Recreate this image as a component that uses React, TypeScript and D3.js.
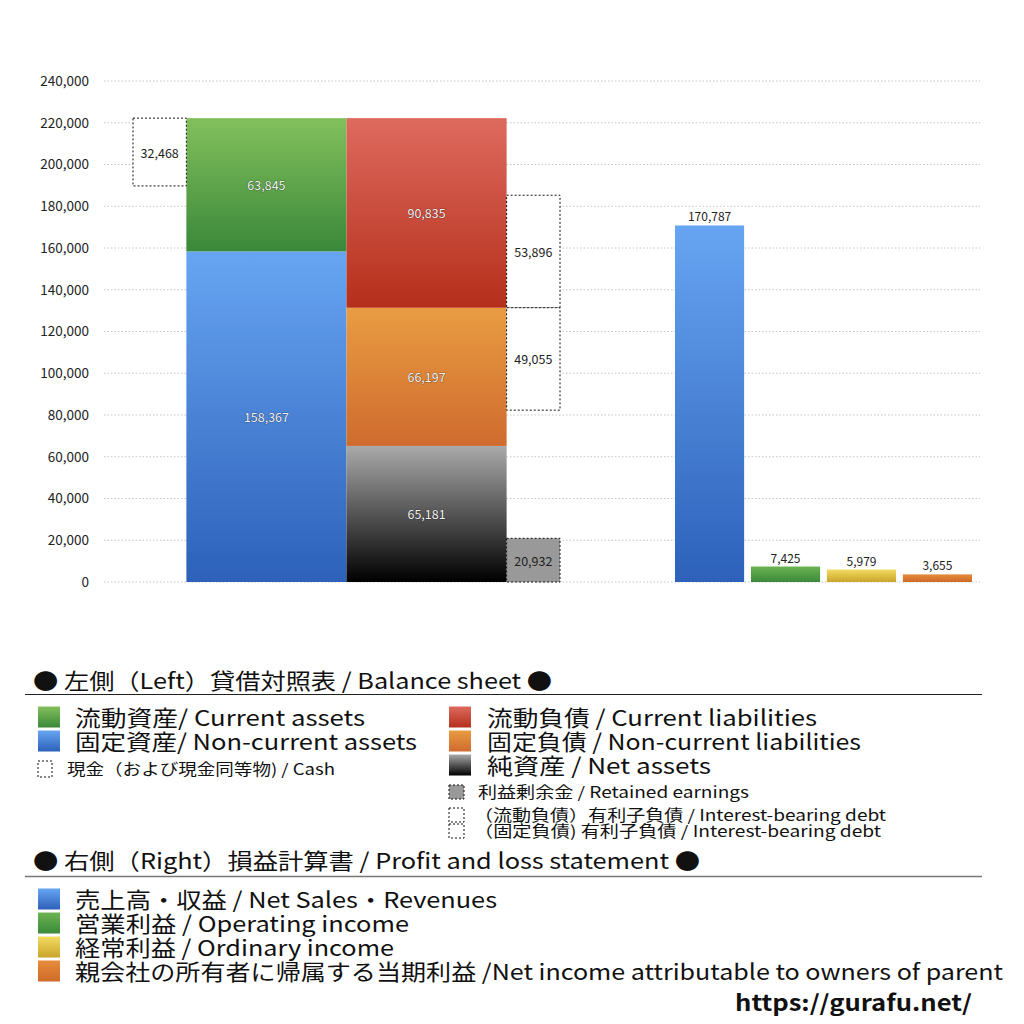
import { useEffect, useRef } from 'react'
import * as d3 from 'd3'

// ─── Data ────────────────────────────────────────────────────────────────────

const yTicks = [0, 20000, 40000, 60000, 80000, 100000, 120000, 140000, 160000, 180000, 200000, 220000, 240000]

// Left: balance sheet (stacked bottom → top)
const assetKeys = ['nonCurrentAssets', 'currentAssets']
const assetValues = [158367, 63845]
const claimKeys = ['netAssets', 'nonCurrentLiabilities', 'currentLiabilities']
const claimValues = [65181, 66197, 90835]
const cashValue = 32468
const retainedEarnings = 20932
const debtValues = [53896, 49055] // current, non-current interest-bearing debt

// Right: profit and loss
const plKeys = ['sales', 'operating', 'ordinary', 'netIncome']
const plValues = [170787, 7425, 5979, 3655]

// ─── Colours ─────────────────────────────────────────────────────────────────

const grads: Record<string, [string, string]> = {
  currentAssets: ['#83c05c', '#3a883a'],
  nonCurrentAssets: ['#67a5f2', '#2d61ba'],
  currentLiabilities: ['#de6a5e', '#b52f1b'],
  nonCurrentLiabilities: ['#e99c42', '#cf6b2e'],
  netAssets: ['#aaaaaa', '#000000'],
  sales: ['#67a5f2', '#2d61ba'],
  operating: ['#6cb452', '#3a8a3a'],
  ordinary: ['#f2dc62', '#c9a52c'],
  netIncome: ['#e58c3c', '#cf6a28'],
}

const FONT = '"Noto Sans CJK JP", "Noto Sans", sans-serif'

// ─── Legend rows ─────────────────────────────────────────────────────────────

interface LegendRow {
  text: string
  x: number
  cy: number
  size: number
  width: number
  swatch?: { x: number; w: number; h: number; key?: string; dotted?: boolean; fill?: string }
}

const legendRows: LegendRow[] = [
  { text: '流動資産/ Current assets', x: 75, cy: 717, size: 22, width: 290, swatch: { x: 38, w: 22, h: 21, key: 'currentAssets' } },
  { text: '固定資産/ Non-current assets', x: 75, cy: 741, size: 22, width: 342, swatch: { x: 38, w: 22, h: 21, key: 'nonCurrentAssets' } },
  { text: '現金（および現金同等物) / Cash', x: 67, cy: 769, size: 15.5, width: 268, swatch: { x: 38, w: 14, h: 16, dotted: true, fill: '#fff' } },
  { text: '流動負債 /  Current liabilities', x: 487, cy: 717, size: 22, width: 330, swatch: { x: 449, w: 22, h: 21, key: 'currentLiabilities' } },
  { text: '固定負債 / Non-current liabilities', x: 487, cy: 741, size: 22, width: 374, swatch: { x: 449, w: 22, h: 21, key: 'nonCurrentLiabilities' } },
  { text: '純資産 / Net assets', x: 487, cy: 765, size: 22, width: 224, swatch: { x: 449, w: 22, h: 21, key: 'netAssets' } },
  { text: '利益剰余金 / Retained earnings', x: 478, cy: 792, size: 15.5, width: 271, swatch: { x: 449, w: 15, h: 14, dotted: true, fill: '#999' } },
  { text: '（流動負債）有利子負債 / Interest-bearing debt', x: 474, cy: 815, size: 15.5, width: 412, swatch: { x: 449, w: 15, h: 14, dotted: true, fill: '#fff' } },
  { text: '（固定負債) 有利子負債 / Interest-bearing debt', x: 474, cy: 831, size: 15.5, width: 407, swatch: { x: 449, w: 15, h: 14, dotted: true, fill: '#fff' } },
  { text: '売上高・収益 / Net Sales・Revenues', x: 75, cy: 899, size: 22, width: 422, swatch: { x: 38, w: 22, h: 21, key: 'sales' } },
  { text: '営業利益 / Operating income', x: 75, cy: 923, size: 22, width: 334, swatch: { x: 38, w: 22, h: 21, key: 'operating' } },
  { text: '経常利益 / Ordinary income', x: 75, cy: 947, size: 22, width: 319, swatch: { x: 38, w: 22, h: 21, key: 'ordinary' } },
  { text: '親会社の所有者に帰属する当期利益 /Net income attributable to owners of parent', x: 75, cy: 971, size: 22, width: 928, swatch: { x: 38, w: 22, h: 21, key: 'netIncome' } },
]

// ─── Component ───────────────────────────────────────────────────────────────

export default function App() {
  const ref = useRef<SVGSVGElement>(null)

  useEffect(() => {
    if (!ref.current) return
    draw(ref.current)
  }, [])

  return (
    <svg
      ref={ref}
      width={1024}
      height={1024}
      style={{ position: 'absolute', left: 0, top: 0, background: '#fff', display: 'block' }}
    />
  )
}

function draw(el: SVGSVGElement) {
  const svg = d3.select(el)
  svg.selectAll('*').remove()
  svg.style('font-family', FONT)

  // gradients
  const defs = svg.append('defs')
  Object.entries(grads).forEach(([k, [c0, c1]]) => {
    const lg = defs.append('linearGradient').attr('id', `g-${k}`).attr('x1', 0).attr('y1', 0).attr('x2', 0).attr('y2', 1)
    lg.append('stop').attr('offset', '0%').attr('stop-color', c0)
    lg.append('stop').attr('offset', '100%').attr('stop-color', c1)
  })

  const y = d3.scaleLinear().domain([0, 240000]).range([582, 81])
  // left group in column units: cash [0,1], assets [1,4], claims [4,7], debt [7,8]
  const xl = d3.scaleLinear().domain([0, 8]).range([133, 560])
  const xr = d3.scaleBand().domain(plKeys).range([675, 972]).paddingInner(0.09).paddingOuter(0)

  // grid
  svg.append('g')
    .selectAll('line')
    .data(yTicks)
    .join('line')
    .attr('x1', 104)
    .attr('x2', 980)
    .attr('y1', (d) => y(d))
    .attr('y2', (d) => y(d))
    .attr('stroke', '#c4c4c4')
    .attr('stroke-width', 1)
    .attr('stroke-dasharray', '1.5,2')

  // y axis labels
  svg.append('g')
    .attr('transform', 'translate(104,0)')
    .call(d3.axisLeft(y).tickValues(yTicks).tickSize(0).tickPadding(15).tickFormat((v) => d3.format(',')(v as number)))
    .call((sel) => sel.select('.domain').remove())
    .call((sel) =>
      sel.selectAll('text')
        .attr('font-size', 13.5)
        .attr('fill', '#222')
        .attr('font-family', FONT)
    )

  const innerLabel = (x: number, cy: number, txt: string) =>
    svg.append('text')
      .attr('x', x)
      .attr('y', cy)
      .attr('text-anchor', 'middle')
      .attr('dominant-baseline', 'central')
      .attr('font-size', 12.5)
      .attr('fill', '#f2f2f2')
      .attr('stroke', 'rgba(0,0,0,0.35)')
      .attr('stroke-width', 1.2)
      .attr('paint-order', 'stroke')
      .text(txt)

  const boxLabel = (x: number, cy: number, txt: string) =>
    svg.append('text')
      .attr('x', x)
      .attr('y', cy)
      .attr('text-anchor', 'middle')
      .attr('dominant-baseline', 'central')
      .attr('font-size', 12.5)
      .attr('fill', '#222')
      .text(txt)

  const dottedBox = (x0: number, x1: number, v0: number, v1: number, fill: string) =>
    svg.append('rect')
      .attr('x', xl(x0))
      .attr('y', y(v1))
      .attr('width', xl(x1) - xl(x0))
      .attr('height', y(v0) - y(v1))
      .attr('fill', fill)
      .attr('stroke', '#111')
      .attr('stroke-width', 1)
      .attr('stroke-dasharray', '2,2')

  // assets stack
  let base = 0
  assetKeys.forEach((k, i) => {
    const top = base + assetValues[i]
    svg.append('rect')
      .attr('x', xl(1))
      .attr('y', y(top))
      .attr('width', xl(4) - xl(1))
      .attr('height', y(base) - y(top))
      .attr('fill', `url(#g-${k})`)
    innerLabel((xl(1) + xl(4)) / 2, (y(base) + y(top)) / 2, d3.format(',')(assetValues[i]))
    base = top
  })
  const assetsTotal = base

  // liabilities + net assets stack
  base = 0
  const claimBounds: [number, number][] = []
  claimKeys.forEach((k, i) => {
    const top = base + claimValues[i]
    claimBounds.push([base, top])
    svg.append('rect')
      .attr('x', xl(4))
      .attr('y', y(top))
      .attr('width', xl(7) - xl(4))
      .attr('height', y(base) - y(top))
      .attr('fill', `url(#g-${k})`)
    innerLabel((xl(4) + xl(7)) / 2, (y(base) + y(top)) / 2, d3.format(',')(claimValues[i]))
    base = top
  })

  // cash box: top aligned with assets total
  dottedBox(0, 1, assetsTotal - cashValue, assetsTotal, '#fff')
  boxLabel((xl(0) + xl(1)) / 2, (y(assetsTotal) + y(assetsTotal - cashValue)) / 2, d3.format(',')(cashValue))

  // interest-bearing debt: current → sits on bottom of current liabilities
  const clBottom = claimBounds[2][0]
  dottedBox(7, 8, clBottom, clBottom + debtValues[0], '#fff')
  boxLabel((xl(7) + xl(8)) / 2, (y(clBottom) + y(clBottom + debtValues[0])) / 2, d3.format(',')(debtValues[0]))
  // non-current → hangs from top of non-current liabilities
  const nclTop = claimBounds[1][1]
  dottedBox(7, 8, nclTop - debtValues[1], nclTop, '#fff')
  boxLabel((xl(7) + xl(8)) / 2, (y(nclTop) + y(nclTop - debtValues[1])) / 2, d3.format(',')(debtValues[1]))

  // retained earnings
  dottedBox(7, 8, 0, retainedEarnings, '#999')
  boxLabel((xl(7) + xl(8)) / 2, (y(0) + y(retainedEarnings)) / 2, d3.format(',')(retainedEarnings))

  // P&L bars
  svg.append('g')
    .selectAll('rect')
    .data(plKeys)
    .join('rect')
    .attr('x', (d) => xr(d)!)
    .attr('y', (_, i) => y(plValues[i]))
    .attr('width', xr.bandwidth())
    .attr('height', (_, i) => y(0) - y(plValues[i]))
    .attr('fill', (d) => `url(#g-${d})`)

  svg.append('g')
    .selectAll('text')
    .data(plKeys)
    .join('text')
    .attr('x', (d) => xr(d)! + xr.bandwidth() / 2)
    .attr('y', (_, i) => y(plValues[i]) - 4)
    .attr('text-anchor', 'middle')
    .attr('font-size', 12)
    .attr('fill', '#222')
    .text((_, i) => d3.format(',')(plValues[i]))

  // ─── Legend ────────────────────────────────────────────────────────────────

  svg.append('text')
    .attr('x', 33)
    .attr('y', 679)
    .attr('dominant-baseline', 'central')
    .attr('font-size', 22)
    .attr('fill', '#111')
    .attr('textLength', 519)
    .attr('lengthAdjust', 'spacingAndGlyphs')
    .text('● 左側（Left）貸借対照表 / Balance sheet ●')
  svg.append('line')
    .attr('x1', 25).attr('x2', 982).attr('y1', 694.5).attr('y2', 694.5)
    .attr('stroke', '#222').attr('stroke-width', 1.2)

  svg.append('text')
    .attr('x', 33)
    .attr('y', 859)
    .attr('dominant-baseline', 'central')
    .attr('font-size', 22)
    .attr('fill', '#111')
    .attr('textLength', 667)
    .attr('lengthAdjust', 'spacingAndGlyphs')
    .text('● 右側（Right）損益計算書 / Profit and loss statement ●')
  svg.append('line')
    .attr('x1', 25).attr('x2', 982).attr('y1', 876.5).attr('y2', 876.5)
    .attr('stroke', '#777').attr('stroke-width', 1.5)

  legendRows.forEach((r) => {
    const s = r.swatch
    if (s) {
      const rect = svg.append('rect')
        .attr('x', s.x)
        .attr('y', r.cy - s.h / 2)
        .attr('width', s.w)
        .attr('height', s.h)
      if (s.dotted) {
        rect.attr('fill', s.fill ?? '#fff')
          .attr('stroke', '#111')
          .attr('stroke-width', 1)
          .attr('stroke-dasharray', '2,2')
      } else {
        rect.attr('fill', `url(#g-${s.key})`)
      }
    }
    svg.append('text')
      .attr('x', r.x)
      .attr('y', r.cy - 1)
      .attr('dominant-baseline', 'central')
      .attr('font-size', r.size)
      .attr('fill', '#111')
      .attr('textLength', r.width)
      .attr('lengthAdjust', 'spacingAndGlyphs')
      .text(r.text)
  })

  svg.append('text')
    .attr('x', 735)
    .attr('y', 1001)
    .attr('dominant-baseline', 'central')
    .attr('font-size', 22)
    .attr('font-weight', 'bold')
    .attr('fill', '#111')
    .attr('textLength', 237)
    .attr('lengthAdjust', 'spacingAndGlyphs')
    .text('https://gurafu.net/')
}
